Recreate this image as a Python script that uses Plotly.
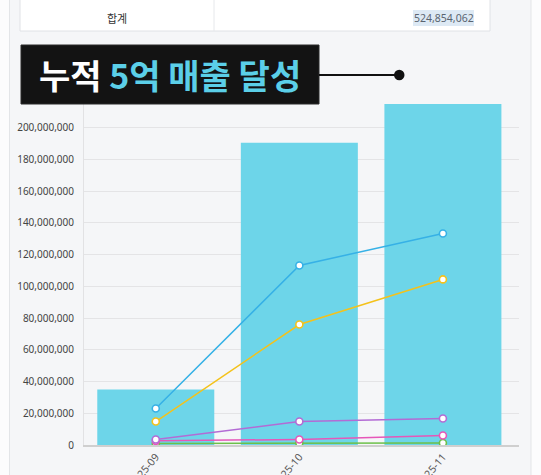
import plotly.graph_objects as go

# ---------------- data ----------------
months = ["2025-09", "2025-10", "2025-11"]
total_sales = [35_000_000, 190_400_000, 214_800_000]
series_names = ["채널 A", "채널 B", "채널 C", "채널 D", "채널 E"]
series_a = [23_000_000, 113_100_000, 133_200_000]
series_b = [14_800_000, 75_900_000, 104_300_000]
series_c = [3_500_000, 14_800_000, 16_700_000]
series_d = [2_600_000, 3_500_000, 6_000_000]
series_e = [900_000, 1_200_000, 1_300_000]
y_ticks = [0, 20_000_000, 40_000_000, 60_000_000, 80_000_000, 100_000_000,
           120_000_000, 140_000_000, 160_000_000, 180_000_000, 200_000_000]
grand_total = "524,854,062"

# ---------------- geometry ----------------
W, H = 541, 475
L, R, T, B = 84, 22, 100, 30
PW, PH = W - L - R, H - T - B


def px(x):
    return (x - L) / PW


def py(y):
    return (H - B - y) / PH


line_colors = ["#36b1e6", "#f4c21b", "#b36bd5", "#e657b9", "#6cc04a"]
bar_color = "#6dd5e9"

fig = go.Figure()
fig.add_trace(go.Bar(x=months, y=total_sales, marker=dict(color=bar_color, line=dict(width=0)),
                     name="합계", showlegend=False))

series = [series_e, series_d, series_c, series_b, series_a]
names = series_names[::-1]
colors = line_colors[::-1]
for vals, nm, col in zip(series, names, colors):
    fig.add_trace(go.Scatter(
        x=months, y=vals, mode="lines+markers", name=nm, showlegend=False,
        line=dict(color=col, width=1.5),
        marker=dict(size=7, color="white", line=dict(color=col, width=1.6)),
    ))

shapes = []
annotations = []


def label(x, y, text, size, color, family, anchor="center"):
    annotations.append(dict(xref="paper", yref="paper", x=px(x), y=py(y), text=text,
                            xanchor=anchor, yanchor="middle", showarrow=False,
                            font=dict(size=size, color=color, family=family)))


# card background
shapes.append(dict(type="rect", xref="paper", yref="paper", layer="below",
                   x0=px(9.5), x1=px(531), y0=py(520), y1=py(-30),
                   fillcolor="#f5f6f8", line=dict(color="#e3e5e8", width=1)))
# table row
shapes.append(dict(type="rect", xref="paper", yref="paper", layer="above",
                   x0=px(20), x1=px(490), y0=py(31), y1=py(-5),
                   fillcolor="white", line=dict(color="#e0e2e6", width=1)))
shapes.append(dict(type="line", xref="paper", yref="paper", layer="above",
                   x0=px(214), x1=px(214), y0=py(31), y1=py(-5),
                   line=dict(color="#e6e8eb", width=1)))
shapes.append(dict(type="rect", xref="paper", yref="paper", layer="above",
                   x0=px(413), x1=px(474), y0=py(26), y1=py(10),
                   fillcolor="#dde9f4", line=dict(width=0)))
label(117, 18, "합계", 11, "#333333", "Noto Sans CJK KR")
label(443.5, 18, grand_total, 10.5, "#5a6470", "Noto Sans")

# title box
shapes.append(dict(type="rect", xref="paper", yref="paper", layer="above",
                   x0=px(21), x1=px(319), y0=py(104), y1=py(45),
                   fillcolor="#131313", line=dict(color="#2a2a2a", width=1)))
shapes.append(dict(type="line", xref="paper", yref="paper", layer="above",
                   x0=px(319), x1=px(398), y0=py(75), y1=py(75),
                   line=dict(color="#111111", width=2)))
shapes.append(dict(type="circle", xref="paper", yref="paper", layer="above",
                   x0=px(394), x1=px(404.5), y0=py(80.2), y1=py(69.8),
                   fillcolor="#111111", line=dict(width=0)))
label(170, 74, "<b>누적 <span style='color:#5bcfe8'>5억 매출 달성</span></b>",
      34, "white", "Noto Sans CJK KR")

fig.update_layout(
    width=W, height=H,
    margin=dict(l=L, r=R, t=T, b=B, pad=0),
    paper_bgcolor="#fcfcfd",
    plot_bgcolor="rgba(0,0,0,0)",
    bargap=0.185,
    shapes=shapes,
    annotations=annotations,
    showlegend=False,
    font=dict(family="Noto Sans", size=11, color="#444444"),
    xaxis=dict(type="category", range=[-0.5, 2.53], showgrid=False, showline=True,
               linecolor="#cfcfcf", linewidth=1.5, ticks="", tickangle=-50, automargin=False,
               tickfont=dict(size=10.5, color="#555555")),
    yaxis=dict(range=[0, 345 / 31.75 * 20_000_000], tickvals=y_ticks, tickformat=",d",
               showgrid=True, gridcolor="#e4e4e6", gridwidth=1, zeroline=False,
               showline=True, linecolor="#e2e2e4", ticks="", automargin=False,
               tickfont=dict(size=10, color="#444444"), ticklabelstandoff=7),
)

fig.write_html("out.html")
